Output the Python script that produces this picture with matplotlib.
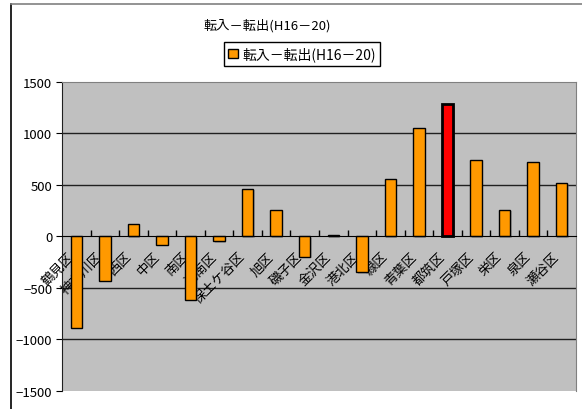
import matplotlib
matplotlib.use("Agg")
import matplotlib.pyplot as plt
import matplotlib.patheffects as pe
from matplotlib.transforms import ScaledTranslation
from matplotlib.patches import Patch
from matplotlib.lines import Line2D

plt.rcParams['font.family'] = ['Noto Sans CJK JP', 'DejaVu Sans']

districts = ['鶴見区', '神奈川区', '西区', '中区', '南区', '港南区', '保土ケ谷区', '旭区', '磯子区',
             '金沢区', '港北区', '緑区', '青葉区', '都筑区', '戸塚区', '栄区', '泉区', '瀬谷区']
values = [-890, -430, 120, -80, -615, -50, 465, 258, -200,
          15, -350, 558, 1052, 1285, 742, 258, 722, 523]
highlight = '都筑区'
title = '転入－転出(H16－20)'
series_name = '転入－転出(H16－20)'
yticks = [-1500, -1000, -500, 0, 500, 1000, 1500]

W, H = 582, 410
fig = plt.figure(figsize=(W / 100, H / 100), dpi=100)
ax = fig.add_axes([62 / W, 1 - 391.7 / H, (576 - 62) / W, (391.7 - 83) / H])
ax.set_facecolor('#C0C0C0')

x = list(range(len(districts)))
colors = ['#FF0000' if d == highlight else '#FF9900' for d in districts]
lws = [2.0 if d == highlight else 1.0 for d in districts]
bars = ax.bar(x, values, width=0.4, color=colors, edgecolor='black', linewidth=lws, zorder=3)
for b in bars:
    b.set_path_effects([pe.SimplePatchShadow(offset=(1.0, -1.0), shadow_rgbFace='#707070', alpha=0.4),
                        pe.Normal()])

ax.set_xlim(-0.5, len(districts) - 0.5)
ax.set_ylim(-1500, 1500)
ax.set_yticks(yticks)
ax.set_yticklabels([f'{v}'.replace('-', '−') for v in yticks], fontsize=9.5)
for v in yticks[1:-1]:
    if v != 0:
        ax.axhline(v, color='#202020', linewidth=1.0, zorder=1)

for s in ['top', 'right']:
    ax.spines[s].set_color('#808080')
ax.spines['left'].set_color('#202020')
ax.spines['bottom'].set_position(('data', 0))
ax.spines['bottom'].set_color('black')
ax.spines['bottom'].set_zorder(4)
ax.tick_params(axis='y', direction='out', length=4, pad=3, colors='black')

ax.set_xticks([i + 0.5 for i in x[:-1]])
ax.set_xticklabels([])
ax.tick_params(axis='x', which='major', direction='in', length=4, width=1)
ax.set_xticks(x, minor=True)
ax.set_xticklabels(districts, minor=True, fontsize=9.5, rotation=45, ha='right', va='center',
                   rotation_mode='anchor')
ax.tick_params(axis='x', which='minor', length=0, pad=13)
off = ScaledTranslation(-4 / 100, 0, fig.dpi_scale_trans)
for lab in ax.get_xticklabels(minor=True):
    lab.set_transform(lab.get_transform() + off)

fig.text(267 / W, 1 - 26 / H, title, ha='center', va='center', fontsize=9.5)

handle = Patch(facecolor='#FF9900', edgecolor='black', linewidth=1.0)
leg = fig.legend([handle], [series_name], loc='center', bbox_to_anchor=(302 / W, 1 - 55 / H),
                 fontsize=10, frameon=True, fancybox=False, edgecolor='black', framealpha=1,
                 handlelength=0.7, handleheight=0.7, handletextpad=0.3, borderpad=0.3,
                 borderaxespad=0)
leg.get_frame().set_linewidth(1.0)

fig.add_artist(Line2D([10.7 / W, 10.7 / W], [0, 1 - 4.7 / H], color='black', linewidth=1.2,
                      transform=fig.transFigure))
fig.add_artist(Line2D([10.7 / W, 1], [1 - 4.7 / H, 1 - 4.7 / H], color='#808080', linewidth=1.2,
                      transform=fig.transFigure))

fig.savefig('out.png', dpi=100)
